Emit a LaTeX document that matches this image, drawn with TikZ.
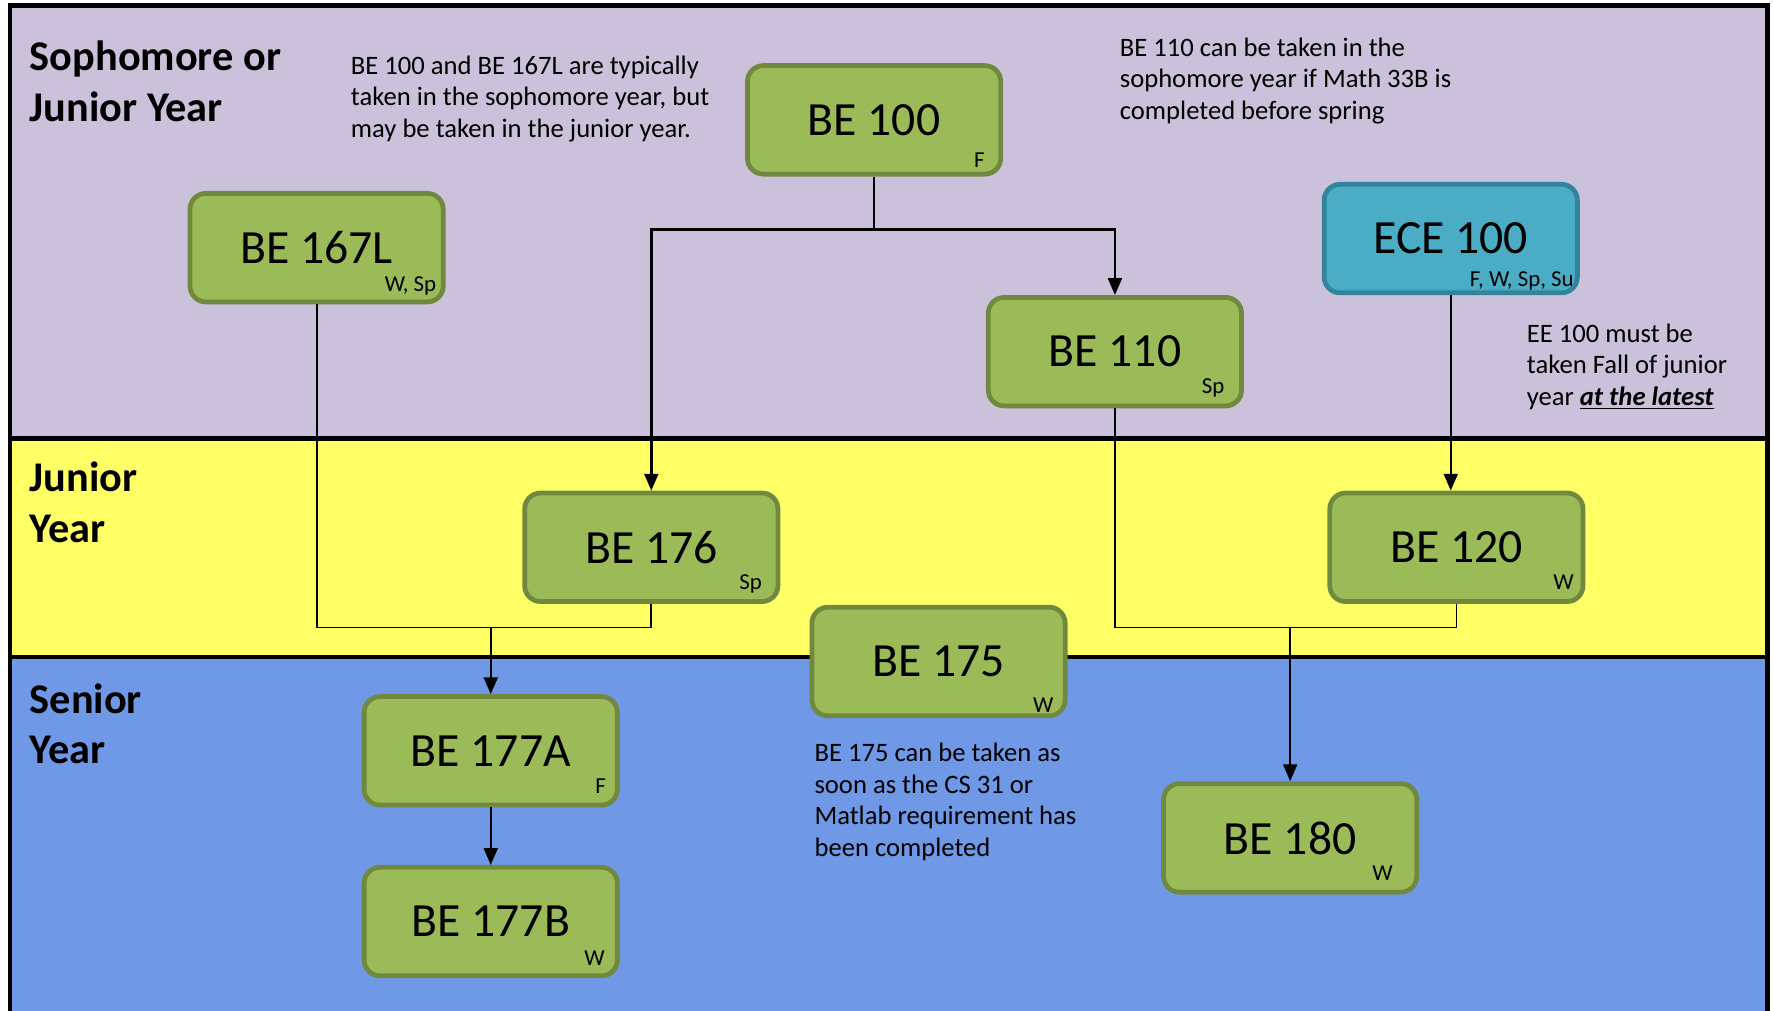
\documentclass[tikz,border=0pt]{standalone}
\usepackage{fontspec}
\setmainfont{Carlito}
\usetikzlibrary{arrows.meta}

\definecolor{sophcol}{HTML}{CCC1DA}
\definecolor{juncol}{HTML}{FFFF66}
\definecolor{sencol}{HTML}{6F99E6}
\definecolor{coursefill}{HTML}{9BBB59}
\definecolor{courseline}{HTML}{71893F}
\definecolor{ecefill}{HTML}{4BACC6}
\definecolor{eceline}{HTML}{31849B}

\begin{document}
\begin{tikzpicture}[x=0.02cm, y=-0.02cm,
		course/.style={draw=courseline, fill=coursefill, line width=2.4pt, rounded corners=8pt,
			minimum width=4.48cm, minimum height=1.92cm, inner sep=0pt, font=\fontsize{24}{28}\selectfont},
		season/.style={anchor=base east, inner sep=0pt, font=\fontsize{11.5}{13}\selectfont},
		note/.style={anchor=north west, align=left, inner sep=0pt, font=\fontsize{13.4}{15.9}\selectfont},
		yearlabel/.style={anchor=north west, align=left, inner sep=0pt, font=\fontsize{21.3}{25.6}\selectfont\bfseries},
		wire/.style={line width=0.9pt},
		arrow/.style={line width=1.2pt, -{Triangle[length=8.5pt, width=7pt]}}]
		\useasboundingbox (0,0) rectangle (1568,894);

		% Draw the year bands
		\fill[sophcol] (9,5) rectangle (1563,388);
		\fill[juncol] (9,388) rectangle (1563,581);
		\fill[sencol] (9,581) rectangle (1563,896);
		\draw[line width=2.3pt] (9,388) -- (1563,388);
		\draw[line width=2.3pt] (9,581) -- (1563,581);
		\draw[line width=2.3pt] (9,5) rectangle (1563,896);

		\node[yearlabel] (soph) at (26,36) {Sophomore or\\Junior Year};
		\node[yearlabel] (jun) at (26,408) {Junior\\Year};
		\node[yearlabel] (sen) at (26,604) {Senior\\Year};

		% Draw the courses
		\node[course] (be100) at (773,106) {BE 100};
		\node[course] (be167l) at (280,219) {BE 167L};
		\node[course] (be110) at (986,311) {BE 110};
		\node[course, draw=eceline, fill=ecefill] (ece100) at (1283,211) {ECE 100};
		\node[course] (be176) at (576,484) {BE 176};
		\node[course] (be120) at (1288,484) {BE 120};
		\node[course] (be175) at (830,585) {BE 175};
		\node[course] (be177a) at (434,664) {BE 177A};
		\node[course] (be177b) at (434,815) {BE 177B};
		\node[course] (be180) at (1141,741) {BE 180};

		% Quarters offered
		\node[season] (q100) at ([shift={(-16,-8)}]be100.south east) {F};
		\node[season] (q167l) at ([shift={(-8,-11)}]be167l.south east) {W, Sp};
		\node[season] (q110) at ([shift={(-17,-13)}]be110.south east) {Sp};
		\node[season] (qece) at ([shift={(-5,-8)}]ece100.south east) {F, W, Sp, Su};
		\node[season] (q176) at ([shift={(-16,-13)}]be176.south east) {Sp};
		\node[season] (q120) at ([shift={(-10,-13)}]be120.south east) {W};
		\node[season] (q175) at ([shift={(-12,-5)}]be175.south east) {W};
		\node[season] (q177a) at ([shift={(-12,-12)}]be177a.south east) {F};
		\node[season] (q177b) at ([shift={(-13,-11)}]be177b.south east) {W};
		\node[season] (q180) at ([shift={(-23,-12)}]be180.south east) {W};

		% Draw the notes
		\node[note] (note100) at (310,49) {BE 100 and BE 167L are typically\\taken in the sophomore year, but\\may be taken in the junior year.};
		\node[note] (note110) at (990,33) {BE 110 can be taken in the\\sophomore year if Math 33B is\\completed before spring};
		\node[note] (noteece) at (1350,286) {EE 100 must be\\taken Fall of junior\\year \textbf{\textit{\underline{at the latest}}}};
		\node[note] (note175) at (720,657) {BE 175 can be taken as\\soon as the CS 31 or\\Matlab requirement has\\been completed};

		% Draw the prerequisite lines
		\coordinate (split100) at (773,203);
		\draw[wire] (be100.south) -- (split100);
		\draw[arrow] (split100) -| (be176.north);
		\draw[arrow] (split100) -| (be110.north);

		\coordinate (join177) at (434,555);
		\draw[wire] (be167l.south) |- (join177);
		\draw[wire] (be176.south) |- (join177);
		\draw[arrow] (join177) -- (be177a.north);
		\draw[arrow] (be177a) -- (be177b);

		\coordinate (join180) at (1141,555);
		\draw[wire] (be110.south) |- (join180);
		\draw[wire] (be120.south) |- (join180);
		\draw[arrow] (join180) -- (be180.north);

		\draw[arrow] (ece100.south) -- (ece100.south |- be120.north);

	\end{tikzpicture}
\end{document}
